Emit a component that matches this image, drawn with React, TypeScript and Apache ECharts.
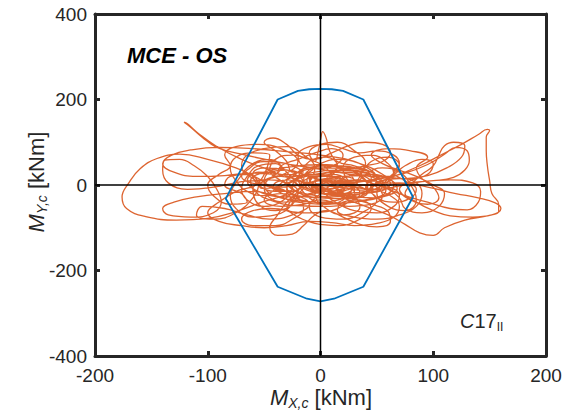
import React, { useEffect, useRef } from "react";
import * as echarts from "echarts";

const xTicks = [-200, -100, 0, 100, 200];
const yTicks = [-400, -200, 0, 200, 400];

// Interaction (capacity) polygon, blue
const capacity: number[][] = [
  [0, 225], [10, 224], [20, 220], [38, 200], [82, -28], [38, -238], [12, -266],
  [0, -272], [-12, -266], [-38, -238], [-84, -32], [-38, 200], [-20, 220], [-10, 224], [0, 225],
];

// Hysteresis trace (orange), read in segments
const traceCore1: number[][] = [
  [0, 5], [15, 20], [30, 10], [28, -12], [10, -22], [-8, -10], [-12, 12], [2, 28], [22, 30], [40, 12],
  [42, -15], [25, -32], [0, -30], [-22, -15], [-30, 10], [-18, 32], [5, 40], [30, 35], [52, 15], [58, -12],
  [40, -35], [12, -42], [-18, -35], [-40, -12],
];
const traceLeftOuter: number[][] = [
  [-55, 15], [-75, 40], [-100, 60], [-125, 72], [-145, 62], [-160, 38], [-170, 5], [-176, -28], [-172, -55],
  [-155, -74], [-128, -82], [-100, -78], [-75, -62], [-52, -40], [-30, -18],
];
const traceLoopsA: number[][] = [
  [-70, 20], [-60, 50], [-45, 60], [-35, 40], [-45, 15], [-60, -10], [-55, -45], [-40, -60], [-25, -40],
  [-30, -10], [-20, 20], [-10, 55], [5, 65], [15, 45], [5, 15], [-5, -20], [5, -55], [20, -70], [35, -50],
  [30, -15], [35, 20], [45, 55], [60, 65], [70, 45], [60, 15], [50, -20], [60, -50], [75, -60], [85, -35],
  [80, 0], [70, 30], [55, 40], [40, 25], [30, -5], [20, -35], [5, -45], [-10, -30], [-20, 0], [-30, 30],
  [-40, 50], [-55, 45], [-65, 20], [-70, -10], [-65, -35], [-50, -50],
];
const traceCore2: number[][] = [
  [-10, 5], [12, 18], [35, 22], [55, 8], [62, -15], [48, -30], [22, -25], [5, -8], [-15, 8], [-35, 20],
  [-50, 5], [-45, -20], [-25, -35], [0, -40], [25, -28], [45, -8], [50, 18], [35, 38], [10, 45], [-15, 38], [-28, 18],
];
const traceTongue: number[][] = [
  [-45, 35], [-70, 60], [-92, 90], [-108, 120], [-118, 143], [-121, 147], [-116, 137], [-105, 112], [-92, 88],
  [-70, 72], [-45, 58], [-20, 45],
];
const traceLoopsF: number[][] = [
  [60, 20], [75, 45], [90, 60], [100, 50], [95, 25], [80, 10], [70, -10], [80, -35], [95, -45], [105, -30],
  [100, -5], [90, 15], [85, 40], [95, 65], [80, 80], [60, 85], [45, 70], [55, 50], [70, 35], [85, 20],
  [100, 0], [110, -20], [105, -50], [90, -65], [75, -55], [70, -30], [60, -10], [45, 5], [35, 25], [40, 50],
  [30, 80], [15, 100], [0, 95], [-10, 75],
];
const traceTopSpike: number[][] = [
  [-5, 55], [-2, 80], [0, 105], [2, 125], [5, 110], [8, 80], [15, 55], [30, 45], [45, 30], [55, 5], [40, -15],
  [15, -20], [-5, -5], [-20, 10], [-30, -5], [-20, -25], [0, -30], [20, -18],
];
const traceLoopsE: number[][] = [
  [10, 0], [20, 10], [30, 0], [22, -12], [12, -5], [18, 8], [32, 12], [42, 2], [38, -12], [28, -8], [30, 5],
  [45, 10], [55, 0], [50, -15], [40, -10], [42, 5], [55, 15], [62, 5], [58, -10], [45, -18], [30, -22],
  [15, -25], [0, -20], [-12, -12], [-20, 0], [-28, 12], [-38, 8], [-42, -5], [-35, -15], [-25, -10], [-30, 5],
  [-45, 12], [-55, 5], [-52, -8], [-40, -5], [-32, 10], [-20, 22], [-5, 25], [8, 18], [5, 5], [-8, 0],
  [-5, -12], [8, -15], [20, -8], [25, 5], [15, 15], [0, 12],
];
const traceRightPeak: number[][] = [
  [40, 0], [65, 20], [88, 45], [108, 72], [125, 95], [140, 118], [148, 130], [150, 128], [147, 112], [147, 80],
  [148, 45], [150, 10], [152, -20], [158, -45], [158, -62], [148, -72], [128, -82], [110, -100], [100, -118],
  [88, -112], [75, -92], [60, -70], [40, -50], [20, -30],
];
const traceCore3: number[][] = [
  [5, -10], [-15, 5], [-35, 25], [-55, 30], [-65, 10], [-55, -15], [-30, -28], [-5, -20], [10, 0], [25, 20],
  [45, 25], [62, 12], [68, -8], [55, -28], [30, -40], [5, -45], [-20, -40], [-40, -25],
];
const traceLeftBox: number[][] = [
  [-60, -15], [-85, -20], [-110, -28], [-130, -40], [-140, -55], [-135, -70], [-115, -75], [-95, -65], [-88, -40],
  [-92, -10], [-100, 20], [-112, 45], [-125, 60], [-138, 58], [-140, 35], [-135, 5], [-118, -10], [-95, -5],
  [-70, 8], [-45, 15],
];
const traceLoopsG: number[][] = [
  [-20, 55], [-35, 85], [-55, 95], [-75, 90], [-85, 70], [-80, 45], [-90, 25], [-100, 0], [-95, -25],
  [-80, -45], [-65, -40], [-70, -20], [-85, 0], [-80, 20], [-65, 25], [-55, 0], [-60, -30], [-75, -65],
  [-95, -80], [-110, -70], [-105, -50], [-85, -55], [-65, -70], [-45, -80], [-25, -70], [-10, -45],
  [-25, -20], [-45, -5], [-60, 15], [-70, 45], [-65, 70], [-50, 85], [-30, 90], [-15, 70], [-5, 40],
];
const traceLoopsB: number[][] = [
  [-30, -55], [-10, -65], [10, -60], [25, -40], [40, -20], [55, 0], [65, 25], [60, 50], [45, 70], [30, 65],
  [20, 40], [25, 10], [40, -10], [50, -35], [40, -60], [20, -80], [0, -75], [-10, -50], [0, -20], [10, 10],
  [5, 40], [-10, 60], [-25, 70], [-40, 60], [-45, 35], [-35, 10], [-20, -15], [-25, -45], [-40, -70],
  [-60, -75], [-75, -55], [-80, -25], [-75, 5], [-65, 35], [-50, 55], [-30, 50], [-15, 30],
];
const traceTopBumps: number[][] = [
  [-25, 30], [-30, 55], [-40, 80], [-50, 100], [-42, 110], [-30, 95], [-20, 70], [-5, 60], [10, 75], [25, 92],
  [40, 100], [55, 95], [62, 75], [55, 55], [40, 45], [20, 35], [0, 25], [-15, 10],
];
const traceBottom: number[][] = [
  [-20, -15], [-30, -40], [-38, -70], [-45, -100], [-38, -118], [-25, -115], [-15, -95], [-5, -70], [5, -60],
  [20, -75], [35, -92], [50, -98], [62, -85], [60, -62], [45, -45], [25, -30], [5, -15],
];
const traceLoopsC: number[][] = [
  [-5, 10], [10, 25], [20, 15], [15, -5], [0, -10], [-10, 5], [-5, 20], [10, 30], [25, 25], [30, 5], [20, -15],
  [5, -20], [-10, -10], [-15, 10], [-10, 35], [5, 45], [20, 40], [35, 25], [45, 5], [40, -20], [25, -30],
  [15, -15], [20, 5], [35, 10], [50, -5], [55, -25], [45, -45], [25, -50], [10, -35], [0, -15], [-15, -25],
  [-30, -40], [-45, -30], [-50, -5], [-40, 20], [-25, 25], [-15, 5], [-25, -15], [-40, -15], [-55, 0],
  [-60, 25], [-50, 40],
];
const traceRightInner: number[][] = [
  [25, 5], [50, 15], [75, 28], [95, 48], [110, 72], [120, 88], [130, 80], [132, 58], [128, 35], [118, 18],
  [100, 10], [78, 5], [60, -5], [75, -25], [95, -40], [115, -55], [130, -58], [140, -40], [142, -15], [135, 5],
  [115, 12], [90, 8], [70, -2], [50, -10],
];
const traceLoopsH: number[][] = [
  [10, 20], [25, 40], [40, 35], [45, 15], [30, 5], [15, -10], [25, -25], [45, -30], [60, -20], [65, 0],
  [55, 25], [35, 50], [15, 60], [0, 50], [-10, 30], [-25, 10], [-40, -10], [-50, -35], [-35, -50], [-15, -45],
  [0, -35], [15, -45], [30, -60], [50, -65], [65, -50], [70, -25], [60, -5], [40, 0], [20, -5], [5, 5],
  [-10, 20], [-30, 35], [-45, 30], [-50, 10], [-35, -5], [-15, 0],
];
const traceCore4: number[][] = [
  [30, -15], [10, -28], [-10, -22], [-25, -5], [-20, 15], [0, 22], [18, 12], [22, -5], [8, -15], [-8, -8],
  [-5, 8], [10, 12], [25, 2], [35, -18], [28, -38], [5, -50], [-22, -48], [-45, -35], [-58, -15], [-62, 10],
  [-50, 30], [-28, 42], [0, 48], [28, 40], [48, 28],
];
const traceLeftUpper: number[][] = [
  [30, 55], [0, 70], [-30, 78], [-60, 85], [-90, 88], [-115, 82], [-132, 70], [-140, 50], [-130, 30],
  [-110, 20], [-85, 22], [-60, 28], [-40, 25],
];
const traceLoopsD: number[][] = [
  [-35, 45], [-20, 60], [-5, 75], [10, 85], [20, 70], [15, 50], [0, 40], [-15, 45], [-20, 70], [-10, 90],
  [5, 95], [20, 85], [35, 75], [50, 80], [65, 70], [70, 50], [65, 30], [75, 10], [85, -10], [80, -30],
  [65, -40], [50, -30], [45, -10], [55, 10], [70, 15], [85, 5], [90, -20], [85, -50], [70, -70], [50, -80],
  [30, -75], [15, -60], [20, -40], [35, -35], [45, -55], [35, -80], [15, -95], [-5, -90], [-20, -75],
  [-30, -60], [-45, -55], [-60, -60], [-70, -80], [-60, -95], [-40, -95], [-25, -80], [-15, -55], [-20, -30],
  [-35, -20], [-50, -25], [-65, -15], [-75, 10], [-80, 40], [-75, 65], [-60, 75], [-45, 70],
];
const traceBottomLeft: number[][] = [
  [-55, 5], [-75, -15], [-90, -40], [-100, -65], [-90, -85], [-70, -95], [-50, -100], [-30, -95], [-10, -85],
  [10, -88], [30, -95], [50, -90], [65, -75], [70, -50], [62, -25], [45, -5],
];
const traceRightLower: number[][] = [
  [70, 5], [95, -5], [120, -20], [140, -30], [155, -42], [160, -55], [152, -70], [135, -75], [115, -72],
  [100, -60], [85, -40], [75, -20],
];
const traceRightTop: number[][] = [
  [80, 0], [90, 25], [100, 45], [105, 70], [110, 92], [118, 100], [128, 92], [125, 65], [112, 40], [95, 22],
  [75, 15], [55, 20],
];
const traceEnd: number[][] = [
  [35, 30], [15, 35], [-5, 30], [-20, 15], [-15, -5], [0, -12], [15, -5], [20, 10], [5, 20], [-10, 12], [-5, 0],
];

const trace: number[][] = [
  ...traceCore1, ...traceLeftOuter, ...traceLoopsA, ...traceCore2, ...traceTongue, ...traceLoopsF,
  ...traceTopSpike, ...traceLoopsE, ...traceRightPeak, ...traceCore3, ...traceLeftBox, ...traceLoopsG,
  ...traceLoopsB, ...traceTopBumps, ...traceBottom, ...traceLoopsC, ...traceRightInner, ...traceLoopsH,
  ...traceCore4, ...traceLeftUpper, ...traceLoopsD, ...traceBottomLeft, ...traceRightLower, ...traceRightTop,
  ...traceEnd,
];

const FONT = "'Liberation Sans', Arial, Helvetica, sans-serif";
const DARK = "#262626";

export default function App() {
  const ref = useRef<HTMLDivElement>(null);
  useEffect(() => {
    if (!ref.current) return;
    const chart = echarts.init(ref.current, undefined, { renderer: "svg" });
    const axisCommon = {
      type: "value" as const,
      axisLine: { show: true, onZero: false, lineStyle: { color: DARK, width: 3 } },
      axisTick: { show: true, inside: true, length: 5, lineStyle: { color: DARK, width: 3 } },
      splitLine: { show: false },
    };
    chart.setOption({
      animation: false,
      backgroundColor: "#ffffff",
      grid: { left: 95, right: 20, top: 14, bottom: 62, containLabel: false },
      xAxis: [
        {
          ...axisCommon,
          position: "bottom",
          min: xTicks[0],
          max: xTicks[xTicks.length - 1],
          interval: 100,
          axisLabel: { show: true, color: DARK, fontSize: 19, fontFamily: FONT, margin: 10 },
        },
        {
          ...axisCommon,
          position: "top",
          min: xTicks[0],
          max: xTicks[xTicks.length - 1],
          interval: 100,
          axisLabel: { show: false },
        },
      ],
      yAxis: [
        {
          ...axisCommon,
          position: "left",
          min: yTicks[0],
          max: yTicks[yTicks.length - 1],
          interval: 200,
          axisLabel: { show: true, color: DARK, fontSize: 19, fontFamily: FONT, margin: 8 },
        },
        {
          ...axisCommon,
          position: "right",
          min: yTicks[0],
          max: yTicks[yTicks.length - 1],
          interval: 200,
          axisLabel: { show: false },
        },
      ],
      series: [
        {
          type: "line",
          data: trace,
          xAxisIndex: 0,
          yAxisIndex: 0,
          showSymbol: false,
          symbol: "none",
          smooth: 0.45,
          lineStyle: { color: "#D95319", width: 1.3, opacity: 0.9 },
          z: 2,
        },
        {
          type: "line",
          data: capacity,
          showSymbol: false,
          symbol: "none",
          lineStyle: { color: "#0072BD", width: 1.8 },
          z: 3,
        },
        {
          type: "line",
          data: [[0, yTicks[0]], [0, yTicks[yTicks.length - 1]]],
          showSymbol: false,
          symbol: "none",
          lineStyle: { color: "#000000", width: 1.5 },
          z: 4,
        },
        {
          type: "line",
          data: [[xTicks[0], 0], [xTicks[xTicks.length - 1], 0]],
          showSymbol: false,
          symbol: "none",
          lineStyle: { color: "#000000", width: 1.5 },
          z: 4,
        },
      ],
      graphic: [
        {
          type: "text",
          x: 127,
          y: 55,
          style: {
            text: "MCE - OS",
            fontSize: 22,
            fontWeight: "bold",
            fontStyle: "italic",
            fontFamily: FONT,
            fill: "#000000",
            align: "left",
            verticalAlign: "middle",
          },
        },
        {
          type: "text",
          x: 321,
          y: 397,
          style: {
            text: "{m|M}{s|X,c}{n| [kNm]}",
            align: "center",
            verticalAlign: "middle",
            rich: {
              m: { fontSize: 22, fontStyle: "italic", fontFamily: FONT, fill: DARK, lineHeight: 26 },
              s: { fontSize: 14, fontStyle: "italic", fontFamily: FONT, fill: DARK, lineHeight: 16, verticalAlign: "bottom" },
              n: { fontSize: 22, fontFamily: FONT, fill: DARK, lineHeight: 26 },
            },
          },
        },
        {
          type: "text",
          x: 36,
          y: 182,
          rotation: Math.PI / 2,
          style: {
            text: "{m|M}{s|Y,c}{n| [kNm]}",
            align: "center",
            verticalAlign: "middle",
            rich: {
              m: { fontSize: 22, fontStyle: "italic", fontFamily: FONT, fill: DARK, lineHeight: 26 },
              s: { fontSize: 14, fontStyle: "italic", fontFamily: FONT, fill: DARK, lineHeight: 16, verticalAlign: "bottom" },
              n: { fontSize: 22, fontFamily: FONT, fill: DARK, lineHeight: 26 },
            },
          },
        },
        {
          type: "text",
          x: 460,
          y: 321,
          style: {
            text: "{c|C}{n|17}{s|II}",
            align: "left",
            verticalAlign: "middle",
            rich: {
              c: { fontSize: 20, fontStyle: "italic", fontFamily: FONT, fill: DARK, lineHeight: 24 },
              n: { fontSize: 20, fontFamily: FONT, fill: DARK, lineHeight: 24 },
              s: { fontSize: 12, fontFamily: FONT, fill: DARK, lineHeight: 14, verticalAlign: "bottom" },
            },
          },
        },
      ],
    });
    return () => chart.dispose();
  }, []);
  return <div ref={ref} style={{ width: 566, height: 418, position: "absolute", left: 0, top: 0 }} />;
}
